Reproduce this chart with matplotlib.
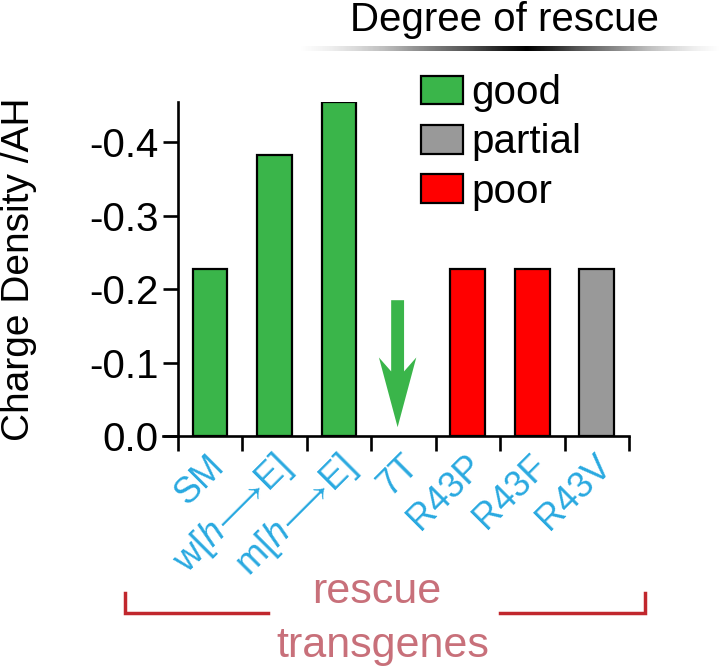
import numpy as np
import matplotlib
matplotlib.use('Agg')
import matplotlib.pyplot as plt
from matplotlib.patches import Patch
from matplotlib.lines import Line2D
from matplotlib.transforms import ScaledTranslation
from matplotlib.ticker import FormatStrFormatter

plt.rcParams['font.family'] = ['Liberation Sans', 'DejaVu Sans']
plt.rcParams['mathtext.fontset'] = 'custom'
plt.rcParams['mathtext.rm'] = 'Liberation Sans'
plt.rcParams['mathtext.it'] = 'Liberation Sans:italic'
plt.rcParams['mathtext.fallback'] = 'stixsans'
plt.rcParams['axes.unicode_minus'] = False

# Daten
transgenes = ['SM', 'w[$\\mathit{h}\\!\\longrightarrow\\!$E]', 'm[$\\mathit{h}\\!\\longrightarrow\\!$E]',
              '7T', 'R43P', 'R43F', 'R43V']
charge_density = [-0.228, -0.383, -0.455, 0.0, -0.228, -0.228, -0.228]
rescue = ['good', 'good', 'good', 'good', 'poor', 'poor', 'partial']
rescue_colors = {'good': '#3AB54A', 'partial': '#999999', 'poor': '#FF0000'}
y_ticks = [0.0, -0.1, -0.2, -0.3, -0.4]

W, H = 720, 668
fig = plt.figure(figsize=(W / 100, H / 100), dpi=100)

def fx(px):
    return px / W

def fy(py):
    return 1 - py / H

ax = fig.add_axes([fx(163), fy(436), fx(629) - fx(163), fy(102) - fy(436)])

x = np.arange(len(transgenes)) + 0.5
colors = [rescue_colors[r] for r in rescue]
edge_w = [1.6 if v != 0 else 0 for v in charge_density]
ax.bar(x, charge_density, width=0.54, color=colors, edgecolor='black', linewidth=edge_w, zorder=3)

# 7T: Pfeil statt Balken
i7 = transgenes.index('7T')
ax.arrow(x[i7] - 0.09, -0.185, 0, 0.173, width=0.2, head_width=0.58, head_length=0.095,
         length_includes_head=True, overhang=0.2, color=rescue_colors['good'], lw=0, zorder=3)

ax.set_xlim(-0.23, len(transgenes))
ax.set_ylim(0, -0.455)
ax.spines['left'].set_position(('data', 0))
ax.spines['top'].set_visible(False)
ax.spines['right'].set_visible(False)
for s in ['left', 'bottom']:
    ax.spines[s].set_linewidth(1.9)

ax.set_yticks(y_ticks)
ax.yaxis.set_major_formatter(FormatStrFormatter('%.1f'))
ax.tick_params(axis='y', length=11, width=1.9, labelsize=29, pad=3)

ax.set_xticks(np.arange(len(transgenes) + 1), labels=[''] * (len(transgenes) + 1))
ax.tick_params(axis='x', which='major', length=11, width=1.9)
ax.set_xticks(x, labels=transgenes, minor=True)
ax.tick_params(axis='x', which='minor', length=0, pad=9, labelsize=26, labelcolor='#29A9E0')
for lab in ax.get_xticklabels(minor=True):
    lab.set_rotation(45)
    lab.set_ha('right')
    lab.set_va('top')
    lab.set_rotation_mode('anchor')
    lab.set_transform(lab.get_transform() + ScaledTranslation(-0.03, 0, fig.dpi_scale_trans))

ax.set_ylabel('Charge Density /AH', fontsize=28)
ax.yaxis.set_label_coords(-0.27, 0.5)

# Legende
handles = [Patch(facecolor=rescue_colors[k], edgecolor='black', linewidth=1.6, label=k)
           for k in ['good', 'partial', 'poor']]
fig.legend(handles=handles, loc='upper left', bbox_to_anchor=(fx(421), fy(74)),
           frameon=False, fontsize=29, handlelength=1.05, handleheight=0.72,
           handletextpad=0.2, labelspacing=0.28, borderpad=0, borderaxespad=0)

fig.text(fx(504), fy(20), 'Degree of rescue', fontsize=29, ha='center', va='center')

# Verlaufslinie unter dem Titel
gx = fig.add_axes([fx(300), fy(51), fx(720) - fx(300), 5 / H])
t = np.linspace(0, 1, 400)
peak = (527 - 300) / 420
grad = np.where(t < peak, t / peak, 1 - (t - peak) / (1 - peak))
gx.imshow(grad[None, :], aspect='auto', cmap='Greys', vmin=0, vmax=1)
gx.axis('off')

# Klammer unten
bc = '#C1272D'
fig.add_artist(Line2D([fx(125), fx(125), fx(268)], [fy(593), fy(613), fy(613)], color=bc, lw=2.5,
                      solid_joinstyle='miter'))
fig.add_artist(Line2D([fx(500), fx(645), fx(645)], [fy(613), fy(613), fy(593)], color=bc, lw=2.5,
                      solid_joinstyle='miter'))
fig.text(fx(377), fy(592), 'rescue', fontsize=31, color='#C8707A', ha='center', va='center')
fig.text(fx(383), fy(646), 'transgenes', fontsize=31, color='#C8707A', ha='center', va='center')

fig.savefig('out.png', dpi=100)
